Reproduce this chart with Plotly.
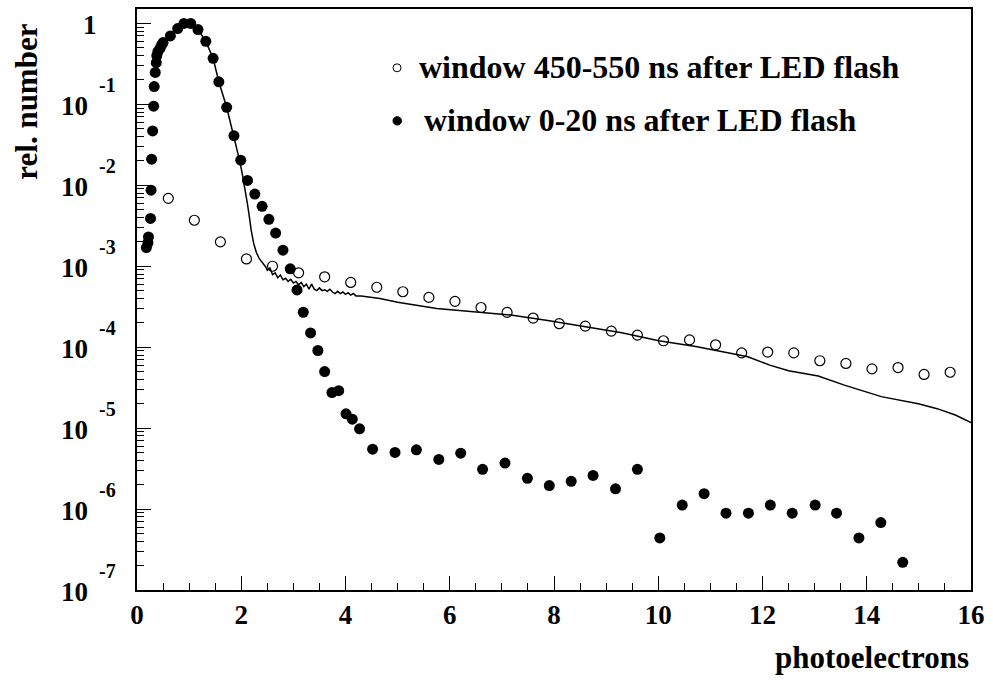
import plotly.graph_objects as go

# Pulse-height spectrum, LED flash runs
# window 0-20 ns after LED flash (filled dots)
early_x = [0.18, 0.21, 0.22, 0.26, 0.27, 0.28, 0.30, 0.32, 0.33, 0.35, 0.37, 0.38, 0.40,
           0.44, 0.47, 0.50, 0.64, 0.78, 0.90, 1.03, 1.17, 1.32, 1.46, 1.57, 1.72, 1.86,
           1.99, 2.12, 2.26, 2.40, 2.53, 2.66, 2.80, 2.94, 3.07, 3.19, 3.33, 3.47, 3.60,
           3.74, 3.87, 4.01, 4.13, 4.27, 4.52, 4.95, 5.36, 5.79, 6.21, 6.63, 7.06, 7.49,
           7.91, 8.33, 8.75, 9.18, 9.60, 10.03, 10.46, 10.88, 11.30, 11.73, 12.15, 12.57,
           13.01, 13.42, 13.85, 14.27, 14.69]
early_y = [1.7e-3, 1.95e-3, 2.3e-3, 3.9e-3, 8.7e-3, 2.1e-2, 4.7e-2, 9.5e-2, 0.166, 0.248,
           0.327, 0.40, 0.447, 0.49, 0.537, 0.58, 0.70, 0.863, 1.0, 1.0, 0.84, 0.60, 0.37,
           0.19, 0.092, 0.041, 0.0204, 0.0115, 7.8e-3, 5.5e-3, 3.8e-3, 2.57e-3, 1.58e-3,
           9.3e-4, 5.1e-4, 2.7e-4, 1.5e-4, 9.1e-5, 5.0e-5, 2.75e-5, 2.9e-5, 1.5e-5, 1.29e-5,
           9.8e-6, 5.5e-6, 5.0e-6, 5.4e-6, 4.1e-6, 4.9e-6, 3.1e-6, 3.7e-6, 2.4e-6, 1.95e-6,
           2.2e-6, 2.6e-6, 1.78e-6, 3.1e-6, 4.4e-7, 1.12e-6, 1.55e-6, 8.9e-7, 8.9e-7,
           1.12e-6, 8.9e-7, 1.12e-6, 8.9e-7, 4.4e-7, 6.8e-7, 2.2e-7]

# window 450-550 ns after LED flash (open circles)
late_x = [0.6, 1.1, 1.6, 2.1, 2.6, 3.1, 3.6, 4.1, 4.6, 5.1, 5.6, 6.1, 6.6, 7.1, 7.6, 8.1,
          8.6, 9.1, 9.6, 10.1, 10.6, 11.1, 11.6, 12.1, 12.6, 13.1, 13.6, 14.1, 14.6, 15.1, 15.6]
late_y = [6.9e-3, 3.7e-3, 2.0e-3, 1.23e-3, 1.0e-3, 8.3e-4, 7.4e-4, 6.3e-4, 5.5e-4, 4.84e-4,
          4.12e-4, 3.68e-4, 3.09e-4, 2.69e-4, 2.29e-4, 1.95e-4, 1.82e-4, 1.58e-4, 1.41e-4,
          1.20e-4, 1.23e-4, 1.07e-4, 8.5e-5, 8.7e-5, 8.5e-5, 6.8e-5, 6.3e-5, 5.4e-5, 5.6e-5,
          4.6e-5, 4.9e-5]

# simulated spectrum (solid line)
sim_x = [0.95, 1.10, 1.17, 1.32, 1.46, 1.57, 1.72, 1.86, 1.97, 2.02, 2.07, 2.12, 2.16, 2.19,
         2.24, 2.29, 2.35, 2.42, 2.47, 2.50, 2.55, 2.60, 2.65, 2.70, 2.75, 2.80, 2.85, 2.90,
         2.95, 3.00, 3.05, 3.10, 3.15, 3.20, 3.25, 3.30, 3.35, 3.40, 3.45, 3.50, 3.55, 3.60,
         3.65, 3.70, 3.75, 3.80, 3.85, 3.90, 3.95, 4.00, 4.05, 4.10, 4.15, 4.20, 4.30, 4.66,
         5.00, 5.75, 6.46, 7.17, 7.88, 8.60, 9.30, 10.01, 10.72, 11.43, 11.72, 12.14, 12.50,
         13.07, 13.57, 14.28, 14.99, 15.35, 15.70, 16.0]
sim_y = [1.0, 0.93, 0.84, 0.60, 0.37, 0.19, 0.092, 0.041, 0.020, 0.0138, 9.3e-3, 5.8e-3,
         3.9e-3, 2.8e-3, 1.9e-3, 1.48e-3, 1.23e-3, 1.07e-3, 9.8e-4, 8.9e-4, 9.5e-4, 7.9e-4,
         8.3e-4, 7.2e-4, 7.8e-4, 6.8e-4, 7.1e-4, 6.5e-4, 6.9e-4, 6.2e-4, 6.5e-4, 5.9e-4,
         6.3e-4, 5.6e-4, 6.0e-4, 5.2e-4, 6.0e-4, 5.2e-4, 5.0e-4, 5.4e-4, 5.0e-4, 5.1e-4,
         4.9e-4, 5.2e-4, 4.8e-4, 4.6e-4, 4.9e-4, 4.6e-4, 4.8e-4, 4.5e-4, 4.7e-4, 4.4e-4,
         4.6e-4, 4.3e-4, 4.3e-4, 4.0e-4, 3.6e-4, 3.0e-4, 2.75e-4, 2.5e-4, 2.14e-4, 1.78e-4,
         1.51e-4, 1.20e-4, 1.02e-4, 8.3e-5, 7.6e-5, 6.0e-5, 5.1e-5, 4.4e-5, 3.4e-5, 2.45e-5,
         2.0e-5, 1.74e-5, 1.45e-5, 1.17e-5]

x_ticks = [0, 2, 4, 6, 8, 10, 12, 14, 16]
y_exponents = [0, -1, -2, -3, -4, -5, -6, -7]
legend_labels = ["window 450-550 ns after LED flash", "window 0-20 ns after LED flash"]

FONT = "Liberation Serif"
W, H = 993, 681
L, R, T, B = 137, 22, 7, 91
PW, PH = W - L - R, H - T - B


def px_x(p):
    return (p - L) / PW


def px_y(p):
    return (H - B - p) / PH


fig = go.Figure()
fig.add_trace(go.Scatter(x=sim_x, y=sim_y, mode="lines",
                         line=dict(color="black", width=1.5), showlegend=False))
fig.add_trace(go.Scatter(x=late_x, y=late_y, mode="markers",
                         marker=dict(symbol="circle-open", size=10, color="black",
                                     line=dict(width=1.2, color="black")),
                         showlegend=False))
fig.add_trace(go.Scatter(x=early_x, y=early_y, mode="markers",
                         marker=dict(symbol="circle", size=11, color="black"),
                         showlegend=False))

minor_y = [m * 10.0 ** k for k in range(-7, 0) for m in range(2, 10)]
minor_x = [v * 0.5 for v in range(0, 33) if v % 4 != 0]

fig.update_xaxes(range=[0, 16], tickmode="array", tickvals=x_ticks,
                 ticktext=[str(v) for v in x_ticks],
                 ticks="inside", ticklen=14, tickwidth=1, tickcolor="black",
                 minor=dict(tickmode="array", tickvals=minor_x, ticks="inside",
                            ticklen=7, tickwidth=1, tickcolor="black", showgrid=False),
                 showline=True, linecolor="black", linewidth=1.5, mirror=True,
                 showgrid=False, zeroline=False,
                 tickfont=dict(family=FONT, size=27, color="black", weight="bold"))
fig.update_yaxes(type="log", range=[-7, 0.178], tickmode="array",
                 tickvals=[10.0 ** k for k in y_exponents], showticklabels=False,
                 ticks="inside", ticklen=14, tickwidth=1, tickcolor="black",
                 minor=dict(tickmode="array", tickvals=minor_y, ticks="inside",
                            ticklen=7, tickwidth=1, tickcolor="black", showgrid=False),
                 showline=True, linecolor="black", linewidth=1.5, mirror=True,
                 showgrid=False, zeroline=False)

ann = []
for k in y_exponents:
    if k == 0:
        ann.append(dict(x=px_x(90), xref="paper", y=k, yref="y", text="1",
                        showarrow=False, xanchor="center", yanchor="middle",
                        yshift=-2, font=dict(family=FONT, size=27, weight="bold")))
    else:
        ann.append(dict(x=px_x(74), xref="paper", y=k, yref="y", text="10",
                        showarrow=False, xanchor="center", yanchor="middle",
                        yshift=-2, font=dict(family=FONT, size=27, weight="bold")))
        ann.append(dict(x=px_x(107), xref="paper", y=k, yref="y", text=str(k),
                        showarrow=False, xanchor="center", yanchor="middle",
                        yshift=19, font=dict(family=FONT, size=20, weight="bold")))

ann.append(dict(x=px_x(27), xref="paper", y=px_y(100), yref="paper", text="rel. number",
                textangle=-90, showarrow=False, xanchor="center", yanchor="middle",
                font=dict(family=FONT, size=31, weight="bold")))
ann.append(dict(x=px_x(971), xref="paper", y=px_y(658), yref="paper", text="photoelectrons",
                showarrow=False, xanchor="right", yanchor="middle",
                font=dict(family=FONT, size=31, weight="bold")))

for label, ypx, xpx in zip(legend_labels, [65, 118], [417, 422]):
    ann.append(dict(x=px_x(xpx), xref="paper", y=px_y(ypx), yref="paper", text=label,
                    showarrow=False, xanchor="left", yanchor="middle",
                    font=dict(family=FONT, size=32, weight="bold")))

shapes = [
    dict(type="circle", xref="paper", yref="paper",
         x0=px_x(393), x1=px_x(401), y0=px_y(70), y1=px_y(62),
         line=dict(color="black", width=1)),
    dict(type="circle", xref="paper", yref="paper",
         x0=px_x(393), x1=px_x(401.5), y0=px_y(123.5), y1=px_y(115),
         line=dict(color="black", width=1), fillcolor="black"),
]

fig.update_layout(width=W, height=H, margin=dict(l=L, r=R, t=T, b=B),
                  paper_bgcolor="white", plot_bgcolor="white",
                  annotations=ann, shapes=shapes, showlegend=False,
                  font=dict(family=FONT, color="black"))

fig.write_html("out.html")
